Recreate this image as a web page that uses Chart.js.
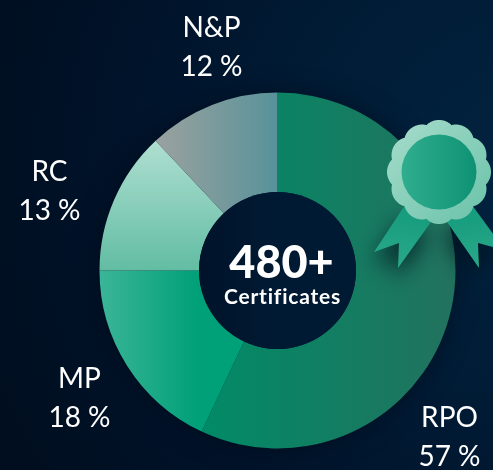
<!DOCTYPE html>
<html>
<head>
<meta charset="utf-8">
<style>
  html, body { margin: 0; padding: 0; width: 493px; height: 470px; overflow: hidden; background: #00142a; }
  #box { position: relative; width: 493px; height: 470px;
    background: radial-gradient(circle at 520px 170px, #012340 0, #011c36 220px, #00132a 400px, #000e1f 580px); }
</style>
</head>
<body>
<div id="box"><canvas id="chart" width="493" height="470"></canvas></div>
<script src="https://cdn.jsdelivr.net/npm/chart.js@4"></script>
<script>
// -> Daten
const categories = ["RPO", "MP", "RC", "N&P"];
const shares = [57, 18, 13, 12];
const totalLabel = "480+";
const totalCaption = "Certificates";

// -> Farbverlauf pro Segment (x = horizontal, y = vertikal, end = wo die Endfarbe erreicht ist)
const sliceFills = [
  { dir: "x", from: "#028a66", to: "#22725e", end: 1 },
  { dir: "x", from: "#3bb597", to: "#00a078", end: 0.55 },
  { dir: "y", from: "#aeded0", to: "#62bda3", end: 1 },
  { dir: "x", from: "#9ba29f", to: "#58929a", end: 1 }
];

// -> Position der Beschriftungen, relativ zur Kreismitte
const labelOffsets = [
  { x: 172, y: 147 },
  { x: -198, y: 108 },
  { x: -228, y: -99 },
  { x: -66, y: -243 }
];

function sliceColor(ctx) {
  const chart = ctx.chart;
  const fill = sliceFills[ctx.dataIndex];
  const area = chart.chartArea;
  if (!area) return fill.from;
  const cx = (area.left + area.right) / 2;
  const cy = (area.top + area.bottom) / 2;
  const r = Math.min(area.width, area.height) / 2;
  const total = shares.reduce((a, b) => a + b, 0);
  const before = shares.slice(0, ctx.dataIndex).reduce((a, b) => a + b, 0);
  const start = -Math.PI / 2 + before / total * Math.PI * 2;
  const end = start + shares[ctx.dataIndex] / total * Math.PI * 2;
  // Ausdehnung des Segments bestimmen
  const xs = [cx], ys = [cy];
  for (let a = start; a <= end; a += 0.05) {
    xs.push(cx + Math.cos(a) * r);
    ys.push(cy + Math.sin(a) * r);
  }
  const g = fill.dir === "x"
    ? chart.ctx.createLinearGradient(Math.min(...xs), 0, Math.max(...xs), 0)
    : chart.ctx.createLinearGradient(0, Math.min(...ys), 0, Math.max(...ys));
  g.addColorStop(0, fill.from);
  g.addColorStop(fill.end, fill.to);
  return g;
}

function drawRibbon(ctx, pts, from, to) {
  ctx.save();
  ctx.shadowColor = "rgba(0,20,30,0.75)";
  ctx.shadowBlur = 22;
  ctx.shadowOffsetX = -3;
  ctx.shadowOffsetY = 14;
  const g = ctx.createLinearGradient(pts[0][0], pts[0][1], pts[2][0], pts[2][1]);
  g.addColorStop(0, from);
  g.addColorStop(1, to);
  ctx.fillStyle = g;
  ctx.beginPath();
  pts.forEach((p, i) => i ? ctx.lineTo(p[0], p[1]) : ctx.moveTo(p[0], p[1]));
  ctx.closePath();
  ctx.fill();
  ctx.restore();
}

// -> Zertifikat-Abzeichen
function drawBadge(ctx) {
  const cx = 439, cy = 172;
  drawRibbon(ctx, [[405, 205], [431, 222], [398, 268], [399, 243], [374, 252]], "#149a7c", "#2aa98a");
  drawRibbon(ctx, [[472, 205], [447, 222], [479, 268], [478, 243], [505, 250]], "#149a7c", "#2aa98a");

  ctx.save();
  const rim = ctx.createLinearGradient(cx - 50, cy - 50, cx + 50, cy + 50);
  rim.addColorStop(0, "#a6dccb");
  rim.addColorStop(1, "#6ac2a9");
  ctx.fillStyle = rim;
  ctx.beginPath();
  for (let i = 0; i <= 360; i += 1) {
    const a = i * Math.PI / 180;
    const r = 48.5 + 3.5 * Math.pow(Math.abs(Math.cos(6 * a)), 0.8);
    const x = cx + Math.sin(a) * r;
    const y = cy - Math.cos(a) * r;
    i ? ctx.lineTo(x, y) : ctx.moveTo(x, y);
  }
  ctx.closePath();
  ctx.fill();

  const face = ctx.createLinearGradient(cx - 37, cy, cx + 37, cy);
  face.addColorStop(0, "#2fae8e");
  face.addColorStop(1, "#0f9274");
  ctx.fillStyle = face;
  ctx.beginPath();
  ctx.arc(cx, cy, 37.5, 0, Math.PI * 2);
  ctx.fill();
  ctx.restore();
}

const sliceLabels = {
  id: "sliceLabels",
  beforeDatasetsDraw(chart) {
    // Schatten der Torte auf dem Hintergrund
    const ctx = chart.ctx;
    const el = chart.getDatasetMeta(0).data[0];
    ctx.save();
    ctx.shadowColor = "rgba(0,8,18,0.6)";
    ctx.shadowBlur = 26;
    ctx.fillStyle = "#00142a";
    ctx.beginPath();
    ctx.arc(el.x, el.y, el.outerRadius - 2, 0, Math.PI * 2);
    ctx.fill();
    ctx.restore();
  },
  afterDatasetsDraw(chart) {
    const ctx = chart.ctx;
    const el = chart.getDatasetMeta(0).data[0];

    // Loch der Torte
    const hole = ctx.createLinearGradient(el.x - el.innerRadius, 0, el.x + el.innerRadius, 0);
    hole.addColorStop(0, "#00132a");
    hole.addColorStop(0.5, "#011a33");
    hole.addColorStop(1, "#011a33");
    ctx.save();
    ctx.fillStyle = hole;
    ctx.beginPath();
    ctx.arc(el.x, el.y, el.innerRadius, 0, Math.PI * 2);
    ctx.fill();
    ctx.restore();

    drawBadge(ctx);

    ctx.save();
    ctx.fillStyle = "#ffffff";
    ctx.textAlign = "center";
    ctx.textBaseline = "middle";
    ctx.font = "400 28px Lato";
    categories.forEach((name, i) => {
      const x = el.x + labelOffsets[i].x;
      const y = el.y + labelOffsets[i].y;
      ctx.fillText(name, x, y);
      ctx.fillText(shares[i] + " %", x, y + 39);
    });
    ctx.font = "900 45px Lato";
    ctx.fillText(totalLabel, el.x + 4, el.y - 7);
    ctx.font = "700 21px Lato";
    ctx.letterSpacing = "0.8px";
    ctx.fillText(totalCaption, el.x + 5, el.y + 26.5);
    ctx.restore();
  }
};

const chart = new Chart(document.querySelector("#chart"), {
  type: "doughnut",
  data: {
    labels: categories,
    datasets: [{
      data: shares,
      backgroundColor: sliceColor,
      borderWidth: 0,
      hoverOffset: 0
    }]
  },
  options: {
    responsive: false,
    animation: false,
    cutout: 78.5,
    layout: { padding: { left: 99.5, right: 37.5, top: 92.5, bottom: 21.5 } },
    plugins: {
      legend: { display: false },
      tooltip: { enabled: false }
    }
  },
  plugins: [sliceLabels]
});
</script>
</body>
</html>
